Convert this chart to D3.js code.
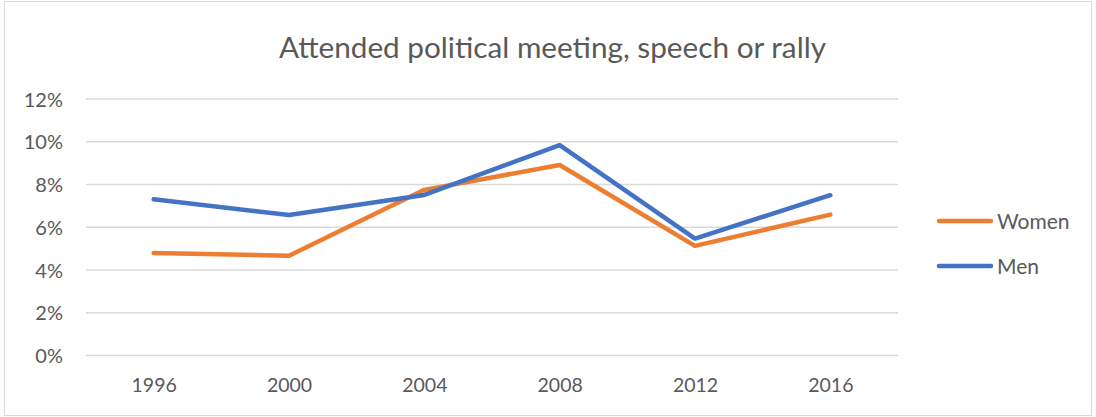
<!DOCTYPE html>
<html>
<head>
<meta charset="utf-8">
<script src="https://cdn.jsdelivr.net/npm/d3@7"></script>
<style>
  html, body { margin: 0; padding: 0; background: #fff; }
  svg { display: block; font-family: Lato, "Open Sans", sans-serif; }
</style>
</head>
<body>
<svg id="chart" width="1096" height="417"></svg>
<script>
// Share attending a political meeting, speech or rally, by survey year
const years = ["1996", "2000", "2004", "2008", "2012", "2016"];
const women = [0.048, 0.0467, 0.0775, 0.0891, 0.0513, 0.0659];
const men   = [0.0731, 0.0657, 0.0751, 0.0984, 0.0547, 0.0750];
const yTicks = [0, 0.02, 0.04, 0.06, 0.08, 0.10, 0.12];
const seriesNames = ["Women", "Men"];
const seriesColors = ["#ED7D31", "#4472C4"];

const svg = d3.select("#chart");
const W = 1096, H = 417;
const plot = { left: 86, right: 898, top: 99, bottom: 355.5 };
const textColor = "#595959";

// outer chart border
svg.append("rect")
  .attr("x", 4.5).attr("y", 1.5)
  .attr("width", W - 9).attr("height", H - 3)
  .attr("fill", "#fff")
  .attr("stroke", "#d9d9d9").attr("stroke-width", 1);

svg.append("text")
  .attr("x", 552.5).attr("y", 58)
  .attr("text-anchor", "middle")
  .attr("font-size", 29.5)
  .attr("textLength", 547)
  .attr("lengthAdjust", "spacingAndGlyphs")
  .attr("fill", textColor)
  .text("Attended political meeting, speech or rally");

const x = d3.scalePoint().domain(years).range([plot.left, plot.right]).padding(0.5);
const y = d3.scaleLinear().domain([0, 0.12]).range([plot.bottom, plot.top]);

// horizontal gridlines
svg.append("g")
  .selectAll("line")
  .data(yTicks)
  .join("line")
  .attr("x1", plot.left).attr("x2", plot.right)
  .attr("y1", d => y(d)).attr("y2", d => y(d))
  .attr("stroke", "#d9d9d9").attr("stroke-width", 1.3);

// y axis labels
const yAxis = d3.axisLeft(y).tickValues(yTicks).tickFormat(d3.format(".0%")).tickSize(0).tickPadding(0);
const gy = svg.append("g").attr("transform", "translate(63,0)").call(yAxis);
gy.select(".domain").remove();
gy.selectAll("text")
  .attr("font-size", 20).attr("fill", textColor)
  .attr("font-family", "Lato, sans-serif")
  .attr("dy", "0.36em");

// x axis labels
const xAxis = d3.axisBottom(x).tickSize(0).tickPadding(0);
const gx = svg.append("g").attr("transform", "translate(0,392)").call(xAxis);
gx.select(".domain").remove();
gx.selectAll("text")
  .attr("font-size", 19.5).attr("fill", textColor)
  .attr("font-family", "Lato, sans-serif")
  .attr("y", 0).attr("dy", 0);

// series lines
const line = d3.line().x((d, i) => x(years[i])).y(d => y(d));
[women, men].forEach((vals, k) => {
  svg.append("path")
    .datum(vals)
    .attr("d", line)
    .attr("fill", "none")
    .attr("stroke", seriesColors[k])
    .attr("stroke-width", 4.5)
    .attr("stroke-linejoin", "round")
    .attr("stroke-linecap", "round");
});

// legend
const legend = svg.append("g");
seriesNames.forEach((name, k) => {
  const ly = 221 + k * 45;
  legend.append("line")
    .attr("x1", 939).attr("x2", 991)
    .attr("y1", ly).attr("y2", ly)
    .attr("stroke", seriesColors[k]).attr("stroke-width", 4.5)
    .attr("stroke-linecap", "round");
  legend.append("text")
    .attr("x", 997).attr("y", ly + 7.5)
    .attr("font-size", 21).attr("fill", textColor)
    .text(name);
});
</script>
</body>
</html>
